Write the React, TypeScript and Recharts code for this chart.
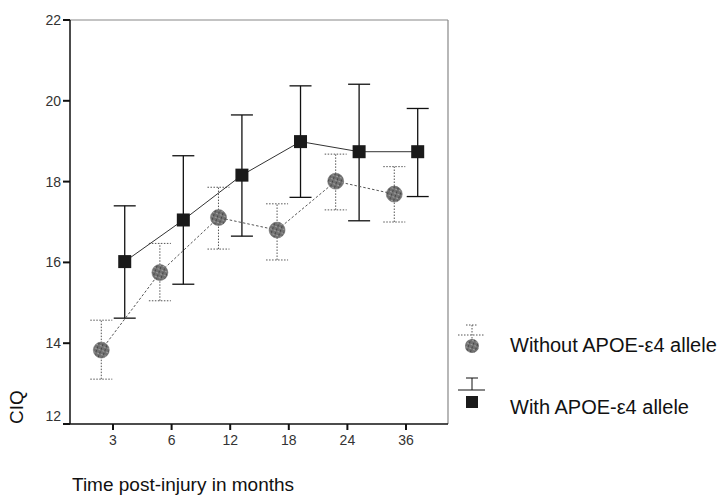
import React from 'react';
import { ScatterChart, Scatter, XAxis, YAxis, ErrorBar, ReferenceLine } from 'recharts';

// time points (months post-injury)
const months = ['3', '6', '12', '18', '24', '36'];

// With APOE-e4 allele: mean and error bar ends
const withMeans = [16.02, 17.05, 18.16, 18.99, 18.74, 18.74];
const withLow = [14.62, 15.46, 16.65, 17.61, 17.03, 17.63];
const withHigh = [17.4, 18.64, 19.65, 20.37, 20.41, 19.81];

// Without APOE-e4 allele
const withoutMeans = [13.83, 15.75, 17.11, 16.8, 18.01, 17.69];
const withoutLow = [13.11, 15.05, 16.33, 16.06, 17.3, 17.0];
const withoutHigh = [14.57, 16.47, 17.86, 17.45, 18.68, 18.37];

const yTicks = [12, 14, 16, 18, 20, 22];

const FONT = '"Liberation Sans", Arial, sans-serif';
const SHIFT = 0.2; // groups are drawn a bit left / right of the tick
const X_DOMAIN: [number, number] = [-0.734, 5.717];

const toPoints = (means: number[], low: number[], high: number[], shift: number) =>
    means.map((m, i) => ({ x: i + shift, y: m, err: [m - low[i], high[i] - m] }));

const withData = toPoints(withMeans, withLow, withHigh, SHIFT);
const withoutData = toPoints(withoutMeans, withoutLow, withoutHigh, -SHIFT);

const SquareShape = (p: any) => (
    <rect x={p.cx - 6.5} y={p.cy - 6.5} width={13} height={13} fill="#1a1a1a" />
);

const MazeShape = (p: any) => (
    <circle cx={p.cx} cy={p.cy} r={8} fill="url(#maze)" stroke="#666" strokeWidth={0.5} />
);

const YTick = (props: any) => {
    const { x, y, payload } = props;
    const dy = payload.value === 12 ? -8 : 0; // bottom label sits above its tick
    return (
        <text x={x} y={y + dy} dy="0.35em" textAnchor="end" fontSize={14} fill="#333" fontFamily={FONT}>
            {payload.value}
        </text>
    );
};

const App: React.FC = () => {
    return (
        <div style={{ position: 'absolute', left: 0, top: 0, width: 718, height: 495, background: '#fff' }}>
            <ScatterChart width={718} height={495} margin={{ top: 20, right: 270, bottom: 41, left: 0 }}>
                <XAxis
                    type="number"
                    dataKey="x"
                    domain={X_DOMAIN}
                    allowDataOverflow
                    ticks={[0, 1, 2, 3, 4, 5]}
                    interval={0}
                    tickFormatter={(v: number) => months[v]}
                    height={30}
                    stroke="#111"
                    axisLine={{ stroke: '#111', strokeWidth: 1.5 }}
                    tickLine={{ stroke: '#111', strokeWidth: 2 }}
                    tickSize={6}
                    tickMargin={5}
                    tick={{ fontSize: 14, fill: '#333', fontFamily: FONT }}
                />
                <YAxis
                    type="number"
                    dataKey="y"
                    domain={[12, 22]}
                    ticks={yTicks}
                    interval={0}
                    width={70}
                    stroke="#111"
                    axisLine={{ stroke: '#111', strokeWidth: 1.5 }}
                    tickLine={{ stroke: '#111', strokeWidth: 2 }}
                    tickSize={7}
                    tickMargin={2}
                    tick={<YTick />}
                />
                {/* frame on top and right */}
                <ReferenceLine y={22} stroke="#888" strokeWidth={1.2} />
                <ReferenceLine x={X_DOMAIN[1]} stroke="#888" strokeWidth={1.2} />

                <Scatter
                    name="With APOE-ε4 allele"
                    data={withData}
                    line={{ stroke: '#333', strokeWidth: 1 }}
                    lineType="joint"
                    shape={SquareShape}
                    isAnimationActive={false}
                >
                    <ErrorBar dataKey="err" direction="y" width={11} stroke="#111" strokeWidth={1.3} />
                </Scatter>
                <Scatter
                    name="Without APOE-ε4 allele"
                    data={withoutData}
                    line={{ stroke: '#555', strokeWidth: 1, strokeDasharray: '2.5 2' }}
                    lineType="joint"
                    shape={MazeShape}
                    isAnimationActive={false}
                >
                    <ErrorBar dataKey="err" direction="y" width={11} stroke="#555" strokeWidth={1} strokeDasharray="1.5 1.5" />
                </Scatter>
            </ScatterChart>

            {/* axis titles and legend */}
            <svg width={718} height={495} style={{ position: 'absolute', left: 0, top: 0, pointerEvents: 'none' }}>
                <defs>
                    <pattern id="maze" width={4} height={4} patternUnits="userSpaceOnUse" patternTransform="rotate(20)">
                        <rect width={4} height={4} fill="#bdbdbd" />
                        <path d="M0 1 H3 V4 M1 4 V2.6 M3 1 V0" stroke="#111" strokeWidth={0.9} fill="none" />
                    </pattern>
                </defs>
                <text x={0} y={0} transform="translate(23 407) rotate(-90)" textAnchor="middle" fontSize={19} fill="#111" fontFamily={FONT}>
                    CIQ
                </text>
                <text x={72} y={491} fontSize={19} fill="#111" fontFamily={FONT}>
                    Time post-injury in months
                </text>

                {/* legend: without */}
                <line x1={466} y1={325} x2={478} y2={325} stroke="#555" strokeDasharray="1.5 1.5" />
                <line x1={472} y1={325} x2={472} y2={340} stroke="#555" strokeDasharray="1.5 1.5" />
                <line x1={458} y1={335} x2={485} y2={335} stroke="#555" strokeDasharray="1.5 1.5" />
                <circle cx={472} cy={346} r={7} fill="url(#maze)" />
                <text x={510} y={352} fontSize={20} fill="#111" fontFamily={FONT}>
                    Without APOE-ε4 allele
                </text>

                {/* legend: with */}
                <line x1={466} y1={378} x2={478} y2={378} stroke="#111" />
                <line x1={472} y1={378} x2={472} y2={390} stroke="#111" />
                <line x1={458} y1={390} x2={485} y2={390} stroke="#111" />
                <rect x={466} y={396} width={12} height={12} fill="#1a1a1a" />
                <text x={510} y={414} fontSize={20} fill="#111" fontFamily={FONT}>
                    With APOE-ε4 allele
                </text>
            </svg>
        </div>
    );
};

export default App;
